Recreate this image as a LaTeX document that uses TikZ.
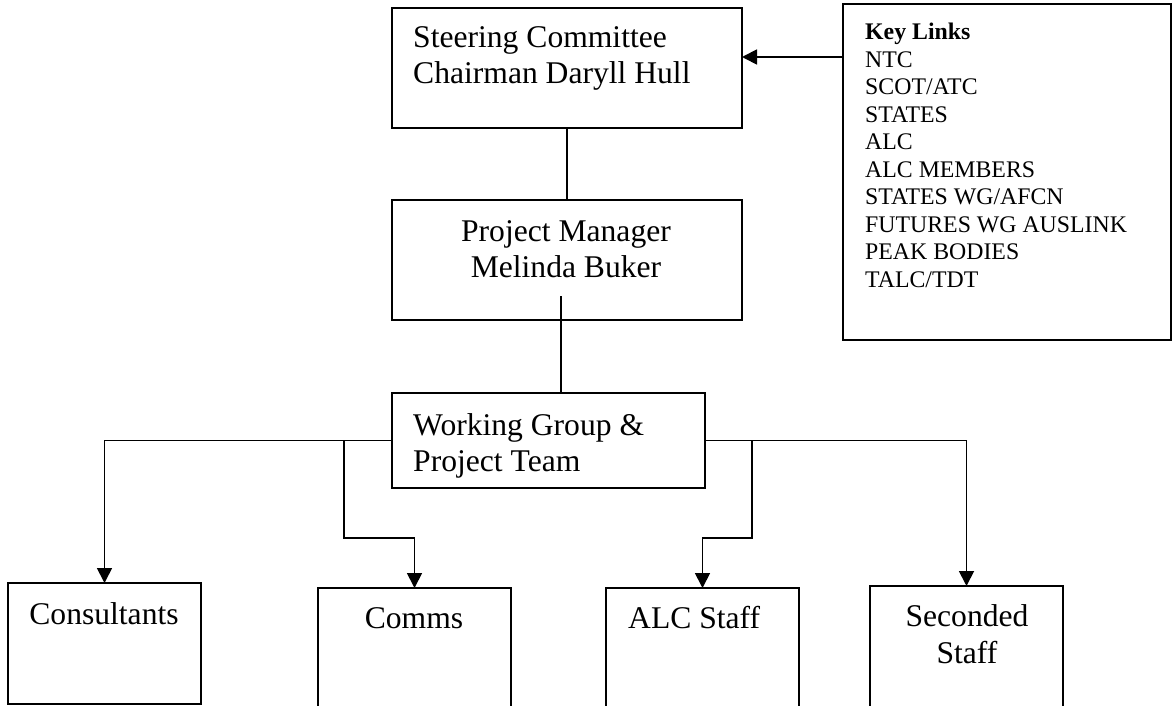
\documentclass[tikz,border=0pt]{standalone}
\usepackage{fontspec}
\setmainfont{Liberation Serif}
\usetikzlibrary{arrows.meta,calc}
\begin{document}
\begin{tikzpicture}[x=1pt,y=-1pt,
  box/.style={draw,line width=1.8pt,rectangle,anchor=north west,inner sep=0,outer sep=0},
  big/.style={font=\fontsize{31.6}{36}\selectfont,inner sep=0},
  small/.style={font=\fontsize{23.8}{27.5}\selectfont,inner sep=0},
  conn/.style={line width=1.8pt,line join=miter},
  arr/.style={conn,-{Triangle[length=15pt,width=15pt]}}]
\useasboundingbox (0,0) rectangle (1173,706);
\clip (0,0) rectangle (1173,706);
% boxes
\node[box,minimum width=350,minimum height=120] (steer) at (392,8) {};
\node[box,minimum width=350,minimum height=120] (pm) at (392,200) {};
\node[box,minimum width=313,minimum height=95] (wg) at (392,393) {};
\node[box,minimum width=328,minimum height=336] (key) at (843,4) {};
\node[box,minimum width=193,minimum height=121] (cons) at (8,583) {};
\node[box,minimum width=193,minimum height=160] (comms) at (318,588) {};
\node[box,minimum width=193,minimum height=160] (alc) at (606,588) {};
\node[box,minimum width=193,minimum height=160] (sec) at (870,586) {};
% texts (multi-line nodes anchored at the baseline of their last line)
\node[big,anchor=base west,align=left] (steert) at (413,83.3) {Steering Committee\\Chairman Daryll Hull};
\node[big,anchor=base,align=center] (pmt) at (566,277) {Project Manager\\Melinda Buker};
\node[big,anchor=base west,align=left] (wgt) at (413,471) {Working Group \&\\Project Team};
\node[small,anchor=base west,align=left] (keyt) at (865,287) {\textbf{Key Links}\\NTC\\SCOT/ATC\\STATES\\ALC\\ALC MEMBERS\\STATES WG/AFCN\\FUTURES WG AUSLINK\\PEAK BODIES\\TALC/TDT};
\node[big,anchor=base] (const) at (104,624) {Consultants};
\node[big,anchor=base] (commst) at (414,628) {Comms};
\node[big,anchor=base west] (alct) at (628,628) {ALC Staff};
\node[big,anchor=base,align=center,font=\fontsize{31.6}{37}\selectfont] (sect) at (967,663) {Seconded\\Staff};
% connectors
\coordinate (ky) at (0,57);
\draw[arr] (key.west |- ky) -- (steer.east |- ky);
\draw[conn] (steer.south) -- (pm.north);
\coordinate (pmstub) at (561,296);
\draw[conn] (pmstub) -- (pmstub |- wg.north);
\draw[arr] (wg.west) -| (cons.north);
\coordinate (jl) at (344,538);
\draw[arr] (jl |- wg.west) -- (jl) -| (comms.north);
\draw[arr] (wg.east) -| (sec.north);
\coordinate (jr) at (752,538);
\draw[arr] (jr |- wg.east) -- (jr) -| (alc.north);
\end{tikzpicture}
\end{document}
